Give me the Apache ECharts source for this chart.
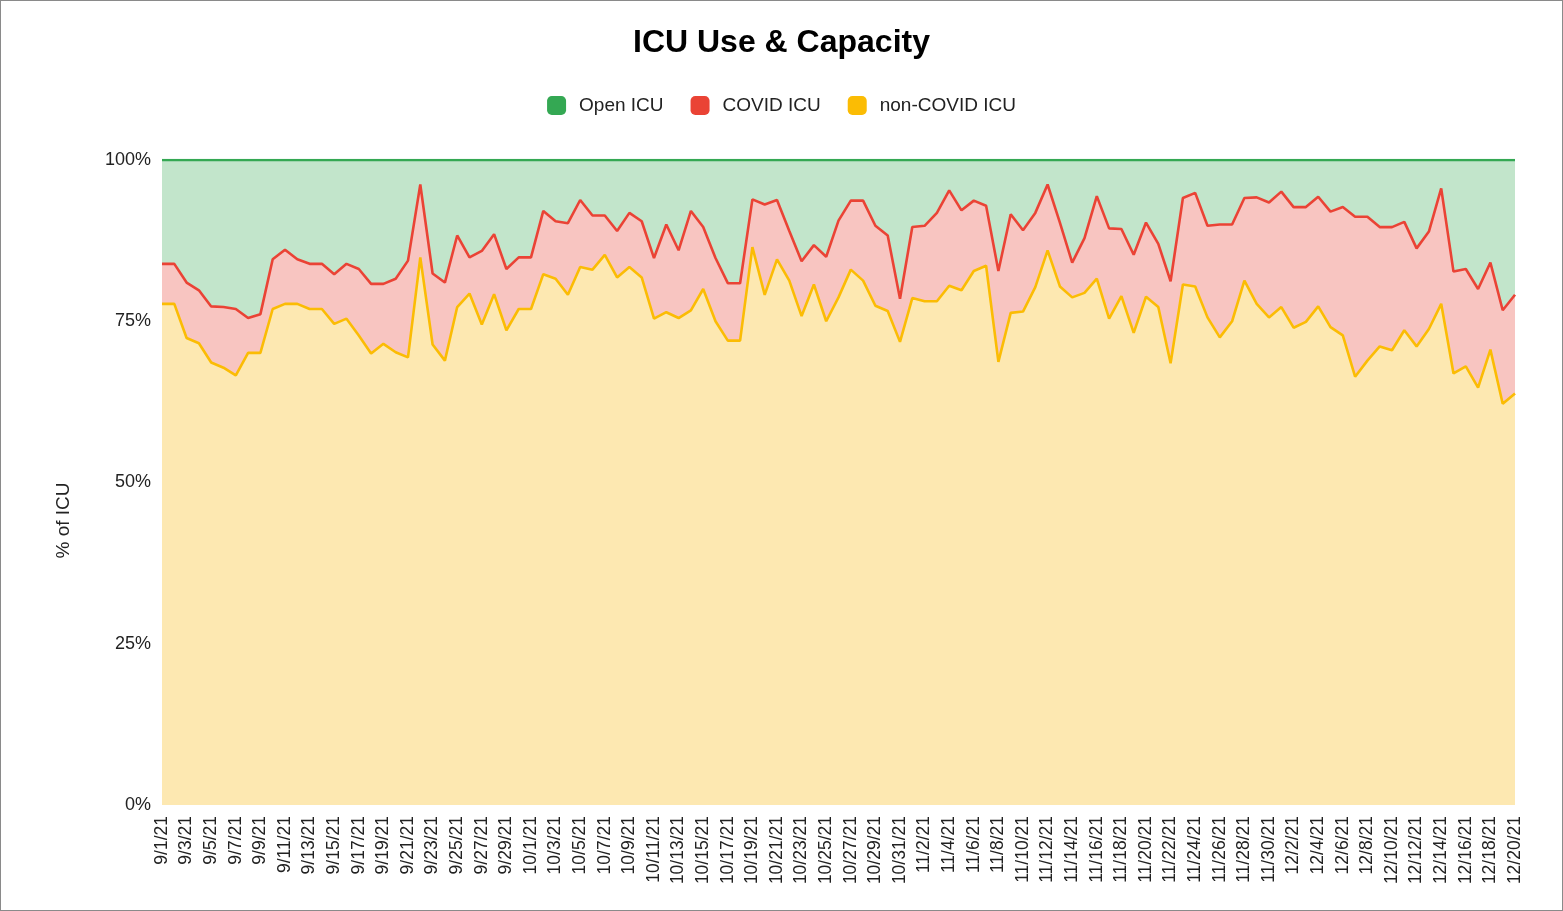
<!DOCTYPE html>
<html>
<head>
<meta charset="utf-8">
<title>ICU Use &amp; Capacity</title>
<script src="https://cdn.jsdelivr.net/npm/echarts@6/dist/echarts.min.js"></script>
<style>
  html, body { margin: 0; padding: 0; background: #fff; }
  #chart { width: 1563px; height: 911px; box-sizing: border-box; border: 1px solid #8a8a8a; }
</style>
</head>
<body>
<div id="chart"></div>
<script>
// Daily dates, 9/1/21 through 12/20/21
const dates = [];
(function () {
  const months = [[9, 30], [10, 31], [11, 30], [12, 20]];
  months.forEach(function (m) {
    for (let d = 1; d <= m[1]; d++) dates.push(m[0] + '/' + d + '/21');
  });
})();

// Share of ICU beds (%) per day
const nonCovidICU = [
  77.7, 77.7, 72.4, 71.6, 68.6, 67.8, 66.6, 70.1, 70.1, 76.9,
  77.7, 77.7, 76.9, 76.9, 74.6, 75.4, 72.8, 70.0, 71.5, 70.2,
  69.4, 84.9, 71.4, 68.9, 77.2, 79.3, 74.5, 79.2, 73.6, 76.9,
  76.9, 82.3, 81.6, 79.1, 83.4, 83.0, 85.3, 81.8, 83.4, 81.8,
  75.4, 76.4, 75.5, 76.7, 80.0, 75.0, 72.0, 72.0, 86.5, 79.1,
  84.6, 81.3, 75.8, 80.7, 75.0, 78.7, 83.0, 81.3, 77.4, 76.6,
  71.8, 78.6, 78.1, 78.1, 80.5, 79.8, 82.8, 83.6, 68.7, 76.3,
  76.5, 80.3, 86.0, 80.4, 78.7, 79.4, 81.6, 75.4, 78.9, 73.2,
  78.8, 77.2, 68.5, 80.7, 80.4, 75.6, 72.5, 75.0, 81.3, 77.7,
  75.6, 77.2, 74.0, 74.9, 77.3, 74.1, 72.8, 66.4, 68.9, 71.1,
  70.5, 73.6, 71.1, 73.8, 77.7, 66.9, 68.0, 64.7, 70.6, 62.2,
  63.8
];

const covidICU = [
  6.2, 6.2, 8.6, 8.2, 8.7, 9.4, 10.3, 5.4, 6.0, 7.7,
  8.4, 6.9, 7.0, 7.0, 7.7, 8.5, 10.3, 10.8, 9.3, 11.4,
  15.0, 11.3, 11.0, 12.1, 11.1, 5.6, 11.4, 9.3, 9.5, 8.0,
  8.0, 9.8, 8.9, 11.1, 10.4, 8.4, 6.1, 7.2, 8.4, 8.7,
  9.4, 13.6, 10.5, 15.4, 9.6, 9.8, 8.9, 8.9, 7.4, 14.0,
  9.2, 7.7, 8.5, 6.1, 10.0, 11.9, 10.7, 12.4, 12.4, 11.7,
  6.7, 11.0, 11.7, 13.7, 14.8, 12.4, 10.9, 9.3, 14.1, 15.3,
  12.6, 11.5, 10.2, 9.9, 5.4, 8.5, 12.8, 14.0, 10.4, 12.1,
  11.5, 9.8, 12.7, 13.4, 14.5, 14.2, 17.5, 15.0, 12.8, 16.5,
  17.8, 17.9, 18.7, 17.8, 17.0, 17.9, 19.9, 24.8, 22.3, 18.5,
  19.1, 16.8, 15.2, 15.1, 17.9, 15.8, 15.1, 15.3, 13.5, 14.5,
  15.3
];

const openICU = [
  16.1, 16.1, 19.0, 20.2, 22.7, 22.8, 23.1, 24.5, 23.9, 15.4,
  13.9, 15.4, 16.1, 16.1, 17.7, 16.1, 16.9, 19.2, 19.2, 18.4,
  15.6, 3.8, 17.6, 19.0, 11.7, 15.1, 14.1, 11.5, 16.9, 15.1,
  15.1, 7.9, 9.5, 9.8, 6.2, 8.6, 8.6, 11.0, 8.2, 9.5,
  15.2, 10.0, 14.0, 7.9, 10.4, 15.2, 19.1, 19.1, 6.1, 6.9,
  6.2, 11.0, 15.7, 13.2, 15.0, 9.4, 6.3, 6.3, 10.2, 11.7,
  21.5, 10.4, 10.2, 8.2, 4.7, 7.8, 6.3, 7.1, 17.2, 8.4,
  10.9, 8.2, 3.8, 9.7, 15.9, 12.1, 5.6, 10.6, 10.7, 14.7,
  9.7, 13.0, 18.8, 5.9, 5.1, 10.2, 10.0, 10.0, 5.9, 5.8,
  6.6, 4.9, 7.3, 7.3, 5.7, 8.0, 7.3, 8.8, 8.8, 10.4,
  10.4, 9.6, 13.7, 11.1, 4.4, 17.3, 16.9, 20.0, 15.9, 23.3,
  20.9
];

const yTicks = [0, 25, 50, 75, 100];

const chart = echarts.init(document.getElementById('chart'));

function areaSeries(name, data, line, fill) {
  return {
    name: name,
    type: 'line',
    stack: 'icu',
    data: data,
    symbol: 'none',
    showSymbol: false,
    lineStyle: { color: line, width: 2.6 },
    itemStyle: { color: line },
    areaStyle: { color: fill, opacity: 1 },
    emphasis: { disabled: true },
    animation: false
  };
}

chart.setOption({
  backgroundColor: '#ffffff',
  textStyle: { fontFamily: 'Arial, "Liberation Sans", sans-serif' },
  title: {
    text: 'ICU Use & Capacity',
    left: 'center',
    top: 21,
    textStyle: { fontSize: 32, fontWeight: 'bold', color: '#000000' }
  },
  legend: {
    top: 90,
    left: 'center',
    icon: 'roundRect',
    itemWidth: 19,
    itemHeight: 19,
    itemGap: 27,
    data: ['Open ICU', 'COVID ICU', 'non-COVID ICU'],
    textStyle: { fontSize: 19, color: '#222222', padding: [0, 0, 0, 8] }
  },
  grid: { left: 161, right: 47, top: 159, bottom: 105, containLabel: false },
  xAxis: {
    type: 'category',
    data: dates,
    boundaryGap: false,
    axisLine: { show: false },
    axisTick: { show: false },
    splitLine: { show: false },
    axisLabel: {
      interval: 1,
      rotate: 90,
      margin: 11,
      fontSize: 17.5,
      color: '#222222'
    }
  },
  yAxis: {
    type: 'value',
    min: yTicks[0],
    max: yTicks[yTicks.length - 1],
    interval: 25,
    name: '% of ICU',
    nameLocation: 'middle',
    nameGap: 89,
    nameRotate: 90,
    nameTextStyle: { fontSize: 19, color: '#222222', padding: [0, 76, 0, 0] },
    axisLine: { show: false },
    axisTick: { show: false },
    splitLine: { show: false },
    axisLabel: {
      fontSize: 18,
      margin: 11,
      color: '#222222',
      formatter: '{value}%'
    }
  },
  series: [
    areaSeries('non-COVID ICU', nonCovidICU, '#fbbc04', '#fde8b1'),
    areaSeries('COVID ICU', covidICU, '#ea4335', '#f8c5c1'),
    areaSeries('Open ICU', openICU, '#34a853', '#c2e5cb')
  ]
});
</script>
</body>
</html>
